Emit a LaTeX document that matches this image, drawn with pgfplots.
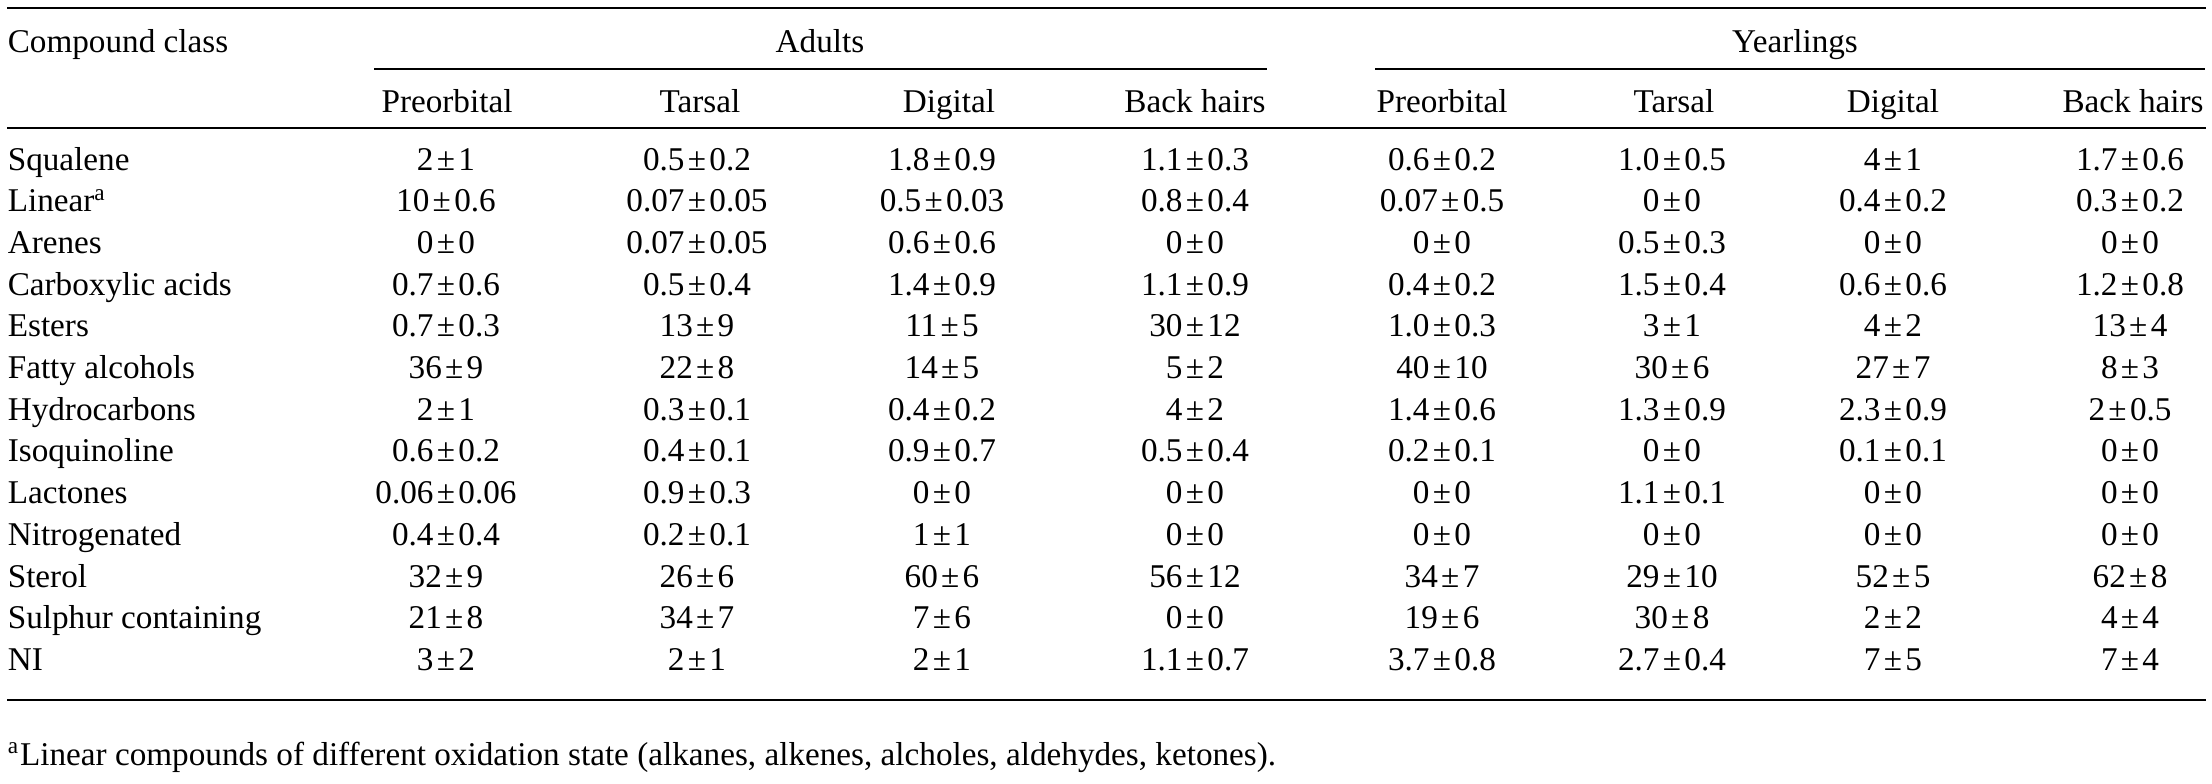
\documentclass[border=0pt]{standalone}
\usepackage{fontspec}
\setmainfont{Liberation Serif}
\usepackage{pgfplots}
\usepackage{pgfplotstable}
\pgfplotsset{compat=1.18}
\newcommand\PM[2]{#1\hspace{0.1em}±\hspace{0.1em}#2}

\pgfplotstableread{
r label AP AT AD AB YP YT YD YB
0 Squalene \PM{2}{1} \PM{0.5}{0.2} \PM{1.8}{0.9} \PM{1.1}{0.3} \PM{0.6}{0.2} \PM{1.0}{0.5} \PM{4}{1} \PM{1.7}{0.6}
1 Linear\textsuperscript{a} \PM{10}{0.6} \PM{0.07}{0.05} \PM{0.5}{0.03} \PM{0.8}{0.4} \PM{0.07}{0.5} \PM{0}{0} \PM{0.4}{0.2} \PM{0.3}{0.2}
2 Arenes \PM{0}{0} \PM{0.07}{0.05} \PM{0.6}{0.6} \PM{0}{0} \PM{0}{0} \PM{0.5}{0.3} \PM{0}{0} \PM{0}{0}
3 {Carboxylic acids} \PM{0.7}{0.6} \PM{0.5}{0.4} \PM{1.4}{0.9} \PM{1.1}{0.9} \PM{0.4}{0.2} \PM{1.5}{0.4} \PM{0.6}{0.6} \PM{1.2}{0.8}
4 Esters \PM{0.7}{0.3} \PM{13}{9} \PM{11}{5} \PM{30}{12} \PM{1.0}{0.3} \PM{3}{1} \PM{4}{2} \PM{13}{4}
5 {Fatty alcohols} \PM{36}{9} \PM{22}{8} \PM{14}{5} \PM{5}{2} \PM{40}{10} \PM{30}{6} \PM{27}{7} \PM{8}{3}
6 Hydrocarbons \PM{2}{1} \PM{0.3}{0.1} \PM{0.4}{0.2} \PM{4}{2} \PM{1.4}{0.6} \PM{1.3}{0.9} \PM{2.3}{0.9} \PM{2}{0.5}
7 Isoquinoline \PM{0.6}{0.2} \PM{0.4}{0.1} \PM{0.9}{0.7} \PM{0.5}{0.4} \PM{0.2}{0.1} \PM{0}{0} \PM{0.1}{0.1} \PM{0}{0}
8 Lactones \PM{0.06}{0.06} \PM{0.9}{0.3} \PM{0}{0} \PM{0}{0} \PM{0}{0} \PM{1.1}{0.1} \PM{0}{0} \PM{0}{0}
9 Nitrogenated \PM{0.4}{0.4} \PM{0.2}{0.1} \PM{1}{1} \PM{0}{0} \PM{0}{0} \PM{0}{0} \PM{0}{0} \PM{0}{0}
10 Sterol \PM{32}{9} \PM{26}{6} \PM{60}{6} \PM{56}{12} \PM{34}{7} \PM{29}{10} \PM{52}{5} \PM{62}{8}
11 {Sulphur containing} \PM{21}{8} \PM{34}{7} \PM{7}{6} \PM{0}{0} \PM{19}{6} \PM{30}{8} \PM{2}{2} \PM{4}{4}
12 NI \PM{3}{2} \PM{2}{1} \PM{2}{1} \PM{1.1}{0.7} \PM{3.7}{0.8} \PM{2.7}{0.4} \PM{7}{5} \PM{7}{4}
}\datatable

\pgfplotstableread{
x y label
820 52 Adults
1795 52 Yearlings
447 112 Preorbital
700 112 Tarsal
949 112 Digital
1195 112 {Back hairs}
1442 112 Preorbital
1674 112 Tarsal
1893 112 Digital
2133 112 {Back hairs}
}\headtable

\pgfplotstableread{
x y label
7 52 {Compound class}
7 765 {\textsuperscript{a}Linear compounds of different oxidation state (alkanes, alkenes, alcholes, aldehydes, ketones).}
}\lefttable

\pgfplotsset{
  txt/.style={only marks, mark=none, black, nodes near coords, point meta=explicit symbolic,
    every node near coord/.append style={font=\fontsize{8.3pt}{10pt}\selectfont, text=black, inner sep=0pt}},
}

\begin{document}
\begin{tikzpicture}
\begin{axis}[scale only axis, width=553pt, height=195.75pt,
  xmin=0, xmax=2212, ymin=0, ymax=783, y dir=reverse,
  axis lines=none, clip=false]
\addplot[draw=none, mark=none, forget plot] coordinates {(0,0) (2212,783)};
% rules
\addplot[black, line width=0.6pt] coordinates {(7,8) (2206,8)};
\addplot[black, line width=0.5pt] coordinates {(374,69) (1267,69)};
\addplot[black, line width=0.5pt] coordinates {(1375,69) (2205,69)};
\addplot[black, line width=0.5pt] coordinates {(7,128) (2206,128)};
\addplot[black, line width=0.6pt] coordinates {(7,700) (2206,700)};
% headers
\addplot[txt, nodes near coords align={anchor=base}] table[x=x, y=y, meta=label] {\headtable};
\addplot[txt, nodes near coords align={anchor=base west}] table[x=x, y=y, meta=label] {\lefttable};
% row labels
\addplot[txt, nodes near coords align={anchor=base west}] table[x expr=7, y expr=170+41.7*\thisrow{r}, meta=label] {\datatable};
% values
\addplot[txt, nodes near coords align={anchor=base}] table[x expr=446, y expr=170+41.7*\thisrow{r}, meta=AP] {\datatable};
\addplot[txt, nodes near coords align={anchor=base}] table[x expr=697, y expr=170+41.7*\thisrow{r}, meta=AT] {\datatable};
\addplot[txt, nodes near coords align={anchor=base}] table[x expr=942, y expr=170+41.7*\thisrow{r}, meta=AD] {\datatable};
\addplot[txt, nodes near coords align={anchor=base}] table[x expr=1195, y expr=170+41.7*\thisrow{r}, meta=AB] {\datatable};
\addplot[txt, nodes near coords align={anchor=base}] table[x expr=1442, y expr=170+41.7*\thisrow{r}, meta=YP] {\datatable};
\addplot[txt, nodes near coords align={anchor=base}] table[x expr=1672, y expr=170+41.7*\thisrow{r}, meta=YT] {\datatable};
\addplot[txt, nodes near coords align={anchor=base}] table[x expr=1893, y expr=170+41.7*\thisrow{r}, meta=YD] {\datatable};
\addplot[txt, nodes near coords align={anchor=base}] table[x expr=2130, y expr=170+41.7*\thisrow{r}, meta=YB] {\datatable};
\end{axis}
\end{tikzpicture}
\end{document}
